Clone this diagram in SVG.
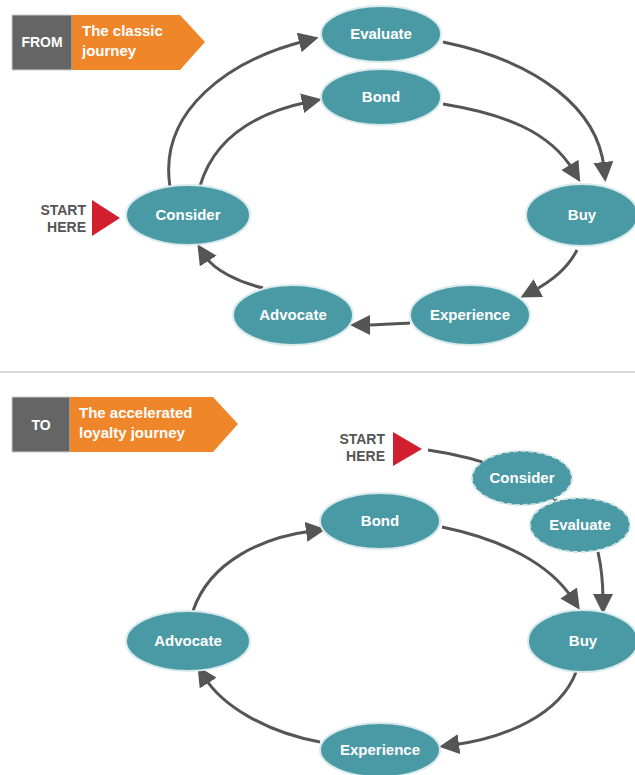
<svg xmlns="http://www.w3.org/2000/svg" width="635" height="775" viewBox="0 0 635 775">
<style>
.node{fill:#4a9aa5;stroke:#d9eaec;stroke-width:2}
.dash{fill:#4a9aa5;stroke:#cfe3e6;stroke-width:2;stroke-dasharray:5 3}
.lbl{font-family:"Liberation Sans",Arial,sans-serif;font-weight:bold;font-size:15px;fill:#fff;text-anchor:middle}
.tag{font-family:"Liberation Sans",Arial,sans-serif;font-weight:bold;font-size:15px;fill:#fff}
.start{font-family:"Liberation Sans",Arial,sans-serif;font-weight:bold;font-size:14px;fill:#555;text-anchor:end}
.conn{fill:none;stroke:#555;stroke-width:3}
</style>
<defs>
<marker id="ah" viewBox="0 0 10 10" refX="3" refY="5" markerWidth="20" markerHeight="20" markerUnits="userSpaceOnUse" orient="auto">
<path d="M0,0 L10,5 L0,10 z" fill="#555"/>
</marker>
</defs>
<rect width="635" height="775" fill="#fff"/>
<line x1="0" y1="372" x2="635" y2="372" stroke="#ccc" stroke-width="1.5"/>

<g id="from-tag">
<rect x="12" y="15" width="60" height="55" fill="#656565" stroke="#ccc"/>
<polygon points="72,15 180,15 205,42 180,70 72,70" fill="#f0862a"/>
<text class="tag" x="42" y="47" text-anchor="middle" style="font-size:14px">FROM</text>
<text class="tag" x="82" y="36">The classic</text>
<text class="tag" x="82" y="56">journey</text>
</g>
<g id="to-tag">
<rect x="12" y="397" width="58" height="55" fill="#656565" stroke="#ccc"/>
<polygon points="70,397 213,397 238,424 213,452 70,452" fill="#f0862a"/>
<text class="tag" x="41" y="430" text-anchor="middle" style="font-size:14px">TO</text>
<text class="tag" x="79" y="418">The accelerated</text>
<text class="tag" x="79" y="438">loyalty journey</text>
</g>

<g id="connectors">
<path class="conn" d="M170,187 C 158,110 230,60 305,41" marker-end="url(#ah)"/>
<path class="conn" d="M200,186 C 215,135 260,112 308,102" marker-end="url(#ah)"/>
<path class="conn" d="M443,42 C 540,62 598,110 604,168" marker-end="url(#ah)"/>
<path class="conn" d="M443,104 C 505,114 550,132 573,170" marker-end="url(#ah)"/>
<path class="conn" d="M577,250 C 568,268 550,282 533,291" marker-end="url(#ah)"/>
<path class="conn" d="M410,323 C 390,324 375,325 364,325" marker-end="url(#ah)"/>
<path class="conn" d="M263,288 C 238,282 214,270 205,256" marker-end="url(#ah)"/>

<path class="conn" d="M428,450 C 470,456 500,466 530,480 C 548,490 555,500 565,510"/>
<path class="conn" d="M598,552 C 602,570 603,585 603,600" marker-end="url(#ah)"/>
<path class="conn" d="M442,527 C 505,540 550,565 572,598" marker-end="url(#ah)"/>
<path class="conn" d="M576,672 C 560,715 505,738 453,745" marker-end="url(#ah)"/>
<path class="conn" d="M320,742 C 265,732 222,705 205,678" marker-end="url(#ah)"/>
<path class="conn" d="M193,611 C 210,560 265,537 312,531" marker-end="url(#ah)"/>
</g>

<g id="start-top">
<text class="start" x="86" y="215">START</text>
<text class="start" x="86" y="232">HERE</text>
<polygon points="92,200 120,218 92,236" fill="#d21f2f"/>
</g>
<g id="start-bottom">
<text class="start" x="385" y="444">START</text>
<text class="start" x="385" y="461">HERE</text>
<polygon points="393,432 422,449 393,466" fill="#d21f2f"/>
</g>

<g id="evaluate-top"><ellipse class="node" cx="381" cy="34" rx="60" ry="28"/><text class="lbl" x="381" y="39">Evaluate</text></g>
<g id="bond-top"><ellipse class="node" cx="381" cy="97" rx="60" ry="28"/><text class="lbl" x="381" y="102">Bond</text></g>
<g id="consider-top"><ellipse class="node" cx="188" cy="215" rx="62" ry="30"/><text class="lbl" x="188" y="220">Consider</text></g>
<g id="buy-top"><ellipse class="node" cx="582" cy="215" rx="56" ry="31"/><text class="lbl" x="582" y="220">Buy</text></g>
<g id="experience-top"><ellipse class="node" cx="470" cy="315" rx="60" ry="30"/><text class="lbl" x="470" y="320">Experience</text></g>
<g id="advocate-top"><ellipse class="node" cx="293" cy="315" rx="60" ry="30"/><text class="lbl" x="293" y="320">Advocate</text></g>

<g id="consider-bottom"><ellipse class="dash" cx="522" cy="478" rx="50" ry="27"/><text class="lbl" x="522" y="483">Consider</text></g>
<g id="evaluate-bottom"><ellipse class="dash" cx="580" cy="525" rx="50" ry="27"/><text class="lbl" x="580" y="530">Evaluate</text></g>
<g id="bond-bottom"><ellipse class="node" cx="380" cy="521" rx="60" ry="28"/><text class="lbl" x="380" y="526">Bond</text></g>
<g id="buy-bottom"><ellipse class="node" cx="583" cy="641" rx="55" ry="31"/><text class="lbl" x="583" y="646">Buy</text></g>
<g id="advocate-bottom"><ellipse class="node" cx="188" cy="641" rx="62" ry="30"/><text class="lbl" x="188" y="646">Advocate</text></g>
<g id="experience-bottom"><ellipse class="node" cx="380" cy="750" rx="60" ry="27"/><text class="lbl" x="380" y="755">Experience</text></g>
</svg>
